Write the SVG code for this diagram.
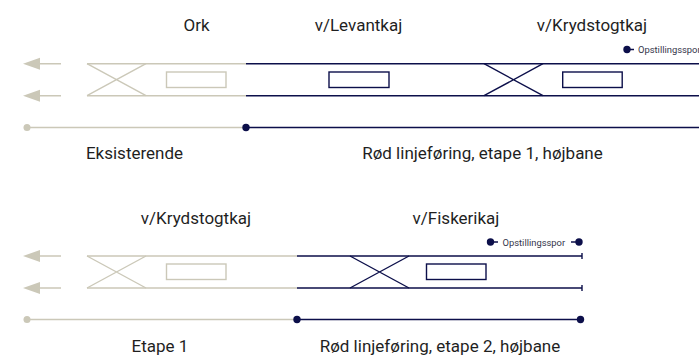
<svg xmlns="http://www.w3.org/2000/svg" width="699" height="357" viewBox="0 0 699 357">
<style>
text{font-family:"Roboto","Liberation Sans",sans-serif;font-size:17px;fill:#1f1f1f}
text.s{font-size:9.4px;fill:#33354a}
.t,.n{fill:none;stroke-width:1.4}
.t{stroke:#cbc8b8}
.n{stroke:#0c0f4a}
.td{fill:#cbc8b8}
.nd{fill:#0c0f4a}
</style>
<defs>
<g id="xt"><path d="M0 0L59 32M0 32L59 0"/></g>
</defs>
<rect width="699" height="357" fill="#fff"/>
<g id="connectors">
<path class="td" d="M23 63.7L40 57.7V69.7ZM23 95.7L40 89.7V101.7ZM23 256L40 250V262ZM23 288L40 282V294Z"/>
<path class="t" d="M40 63.7H61M40 95.7H61M40 256H61M40 288H61"/>
<path class="t" d="M87 63.7H246M87 95.7H246M27 127.5H246"/>
<path class="n" d="M246 63.7H699M246 95.7H699M246 127.5H699"/>
<path class="t" d="M87 256H297M87 288H297M27 319.5H297"/>
<path class="n" d="M297 256H582M297 288H582M297 319.5H581M582 253V259M582 285V291"/>
<path class="n" d="M627 49.5H634M490 242H498M571 242H579" stroke-width="1.2"/>
<g class="td"><circle cx="27" cy="127.5" r="3.5"/><circle cx="27" cy="319.5" r="3.5"/></g>
<g class="nd"><circle cx="246" cy="127.5" r="3.7"/><circle cx="297" cy="319.5" r="3.7"/><circle cx="580.5" cy="319.5" r="3.7"/><circle cx="627" cy="49.5" r="3.7"/><circle cx="490.5" cy="242" r="3.7"/><circle cx="579" cy="242" r="3.7"/></g>
</g>
<g id="ork"><use href="#xt" x="87" y="63.7" class="t"/><rect class="t" x="166.5" y="72" width="59.5" height="15.5"/><text x="196.5" y="31" text-anchor="middle">Ork</text></g>
<g id="levantkaj"><rect class="n" x="329" y="72" width="60" height="15.5"/><text x="358.5" y="31" text-anchor="middle">v/Levantkaj</text></g>
<g id="krydstogtkaj1"><use href="#xt" x="484" y="63.7" class="n"/><rect class="n" x="562.7" y="72" width="59.5" height="15.5"/><text x="592" y="31" text-anchor="middle">v/Krydstogtkaj</text></g>
<g id="opstilling1"><text class="s" x="638" y="53">Opstillingsspor</text></g>
<g id="eksisterende"><text x="134.5" y="159" text-anchor="middle">Eksisterende</text></g>
<g id="etape1-label"><text x="482.5" y="159" text-anchor="middle">Rød linjeføring, etape 1, højbane</text></g>
<g id="krydstogtkaj2"><use href="#xt" x="87" y="256" class="t"/><rect class="t" x="166.5" y="264" width="59.5" height="15.5"/><text x="196" y="224" text-anchor="middle">v/Krydstogtkaj</text></g>
<g id="fiskerikaj"><use href="#xt" x="350" y="256" class="n"/><rect class="n" x="426.5" y="264" width="59.5" height="15.5"/><text x="456" y="224" text-anchor="middle">v/Fiskerikaj</text></g>
<g id="opstilling2"><text class="s" x="502.5" y="245.5">Opstillingsspor</text></g>
<g id="etape1b"><text x="160" y="352" text-anchor="middle">Etape 1</text></g>
<g id="etape2-label"><text x="440" y="352" text-anchor="middle">Rød linjeføring, etape 2, højbane</text></g>
</svg>
